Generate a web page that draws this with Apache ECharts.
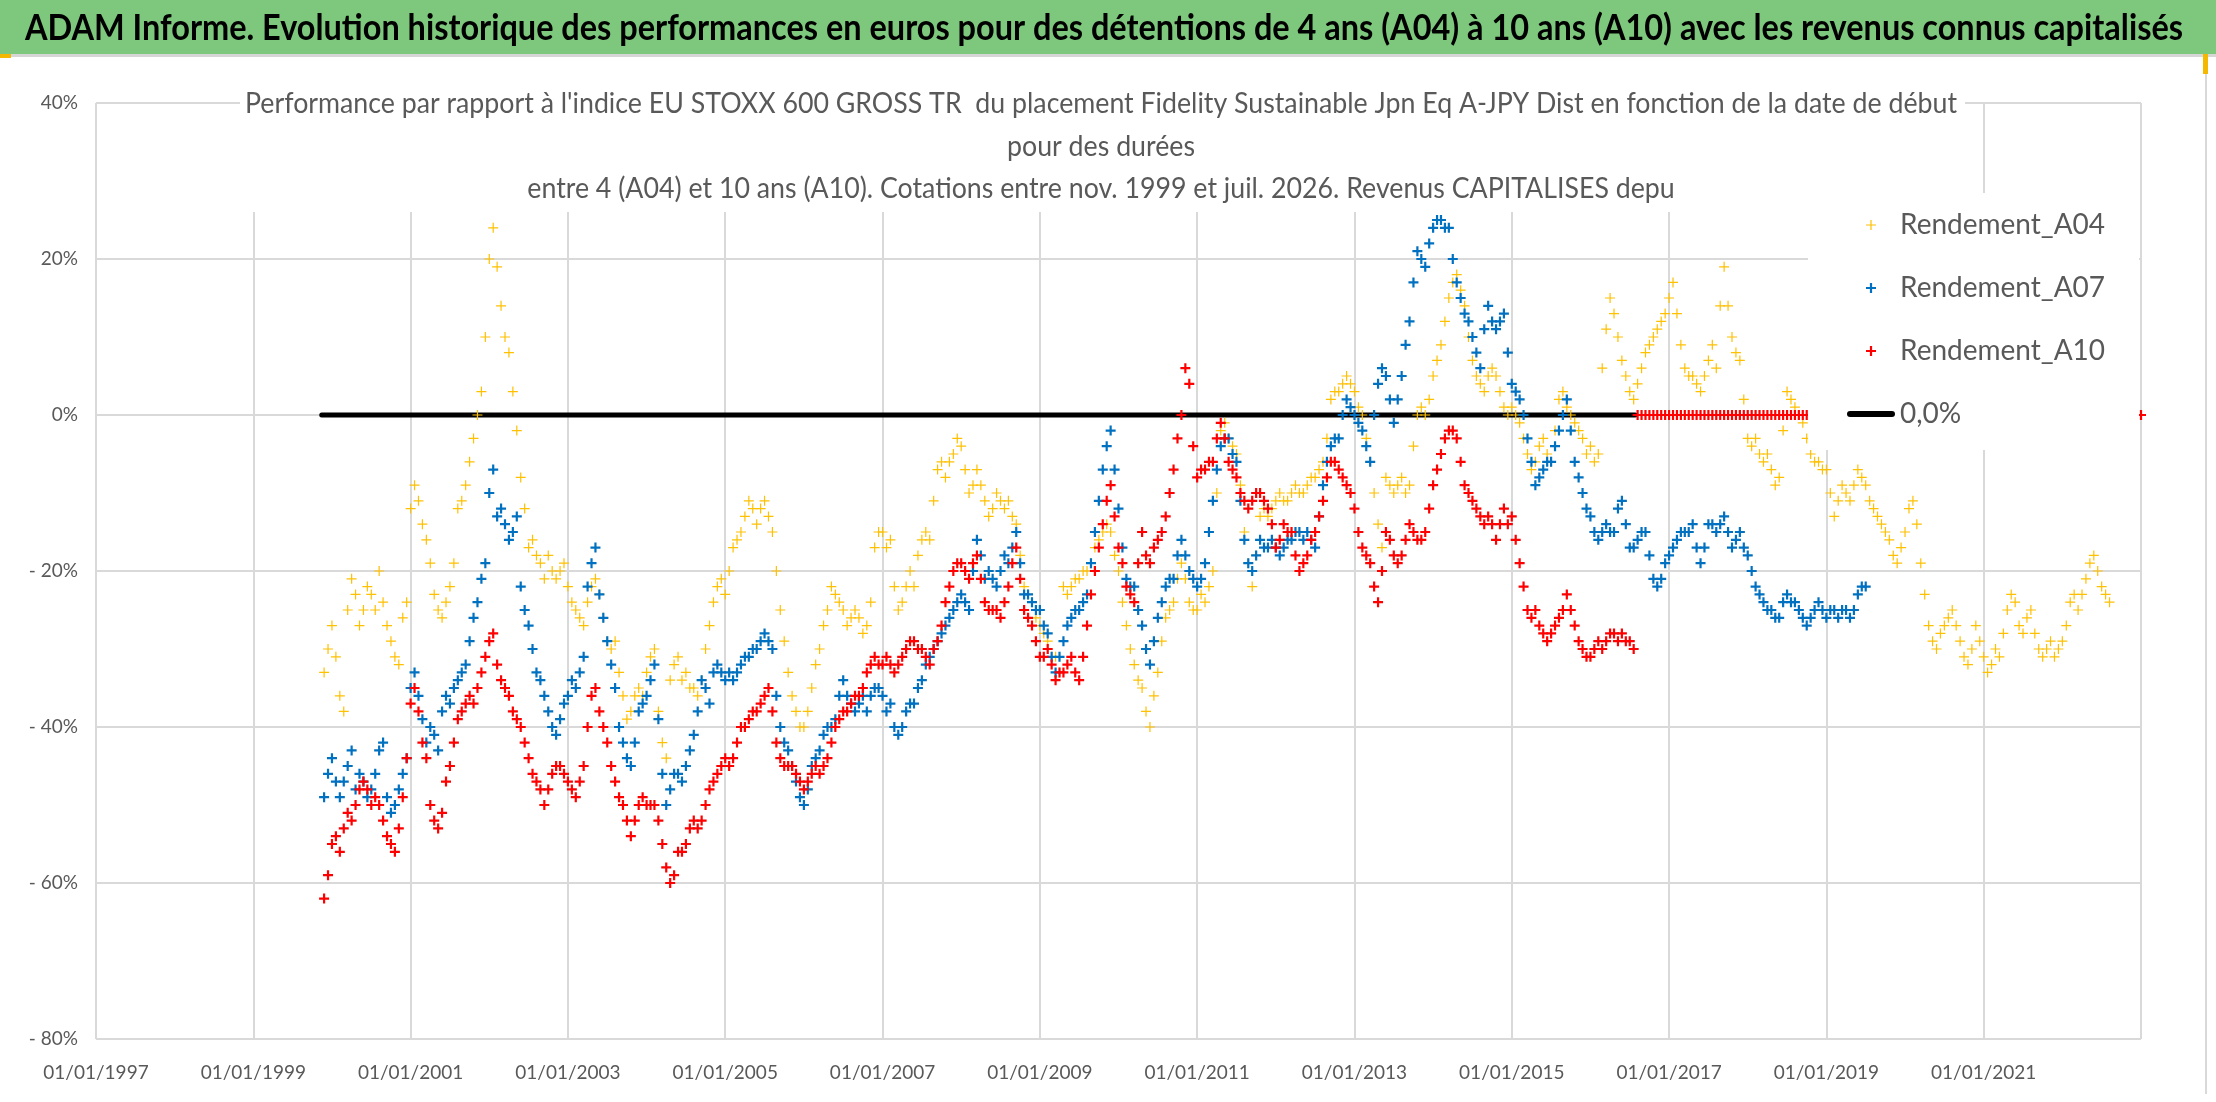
<!DOCTYPE html>
<html>
<head>
<meta charset="utf-8">
<title>ADAM Informe - Rendements A04 A07 A10</title>
<script src="https://cdn.jsdelivr.net/npm/echarts@6/dist/echarts.min.js"></script>
<style>
  html, body { margin: 0; padding: 0; background: #fff; }
  #chart { width: 2216px; height: 1102px; }
</style>
</head>
<body>
<div id="chart"></div>
<script>
// dates are decimal years, one value every 0.1 year starting at startYear;
// the "Half" arrays are a second reading of the band, half a step later
var startYear = 1999.9;
var step = 0.1;
var halfOffset = 0.05;
var baseYear = 1997;   // left edge of the date axis

var a04 = [
  -33,
  -27, -36, -25, -23, -25, -23, -20, -27, -31, -26,
  -12, -11, -16, -23, -26, -22, -12, -9, -3, 3,
  20, 19, 10, 3, -8, -17, -18, -21, -20, -20,
  -22, -25, -27, -22, -23, -29, -29, -36, -38, -35,
  -33, -30, -42, -34, -31, -33, -35, -34, -27, -22,
  -23, -17, -15, -11, -14, -11, -15, -25, -33, -38,
  -40, -35, -30, -25, -23, -25, -26, -26, -27, -17,
  -15, -16, -25, -22, -22, -16, -16, -7, -8, -5,
  -4, -10, -7, -11, -12, -11, -11, -14, -22, -24,
  -27, -29, -31, -22, -22, -21, -20, -17, -15, -15,
  -20, -27, -32, -35, -40, -33, -26, -24, -19, -24,
  -25, -24, -20, -2, -3, -5, -15, -22, -13, -13,
  -11, -11, -10, -10, -9, -8, -6, 2, 3, 5,
  3, 0, -6, -14, -8, -10, -8, -9, 0, 0,
  5, 9, 15, 18, 14, 7, 4, 5, 5, 1,
  1, -1, -5, -6, -3, -6, 2, 1, -1, -3,
  -4, -5, 11, 13, 7, 3, 4, 8, 10, 12,
  15, 13, 6, 5, 3, 7, 6, 19, 10, 7,
  -3, -3, -6, -7, -8, 3, 1, -1, -5, -6,
  -7, -13, -9, -11, -7, -9, -12, -14, -16, -19,
  -15, -11, -19, -27, -30, -27, -25, -29, -32, -27,
  -31, -32, -31, -25, -24, -28, -25, -30, -30, -31,
  -29, -24, -25, -21, -18, -22, -24
];
var a04Half = [
  -30,
  -31, -38, -21, -27, -22, -25, -24, -29, -32, -24,
  -9, -14, -19, -25, -24, -19, -11, -6, 0, 10,
  24, 14, 8, -2, -12, -16, -19, -18, -21, -19,
  -24, -26, -24, -21, -26, -30, -33, -39, -36, -36,
  -31, -38, -44, -32, -34, -35, -36, -30, -24, -21,
  -20, -16, -13, -12, -12, -13, -20, -29, -36, -40,
  -38, -32, -27, -22, -24, -27, -25, -28, -24, -15,
  -17, -22, -24, -20, -18, -15, -11, -6, -6, -3,
  -7, -9, -9, -13, -10, -12, -13, -18, -23, -26,
  -28, -31, -33, -23, -21, -20, -19, -16, -14, -18,
  -24, -30, -34, -38, -36, -29, -25, -21, -21, -25,
  -23, -22, -10, -1, -4, -9, -19, -18, -12, -12,
  -10, -11, -9, -10, -8, -7, -3, 3, 4, 4,
  1, -3, -10, -17, -9, -9, -10, -4, 1, 2,
  7, 12, 17, 16, 10, 5, 3, 6, 3, 0,
  0, -3, -7, -4, -5, -2, 3, 0, -2, -5,
  -6, 6, 15, 10, 5, 2, 6, 9, 11, 13,
  17, 9, 5, 4, 5, 9, 14, 14, 8, 2,
  -4, -5, -5, -9, -2, 2, 0, -3, -6, -7,
  -10, -11, -10, -9, -8, -11, -13, -15, -18, -17,
  -12, -14, -23, -29, -28, -26, -27, -31, -30, -29,
  -33, -30, -28, -23, -27, -26, -28, -31, -29, -30,
  -27, -23, -23, -19, -20, -23
];

var a07 = [
  -49,
  -44, -49, -45, -48, -47, -48, -43, -49, -50, -46,
  -35, -36, -42, -41, -38, -37, -34, -32, -26, -21,
  -10, -13, -14, -15, -22, -27, -33, -36, -40, -39,
  -36, -35, -31, -19, -23, -29, -35, -42, -45, -38,
  -36, -32, -46, -48, -46, -45, -41, -34, -37, -32,
  -34, -34, -32, -31, -30, -28, -30, -40, -43, -47,
  -50, -45, -43, -40, -39, -34, -37, -37, -38, -35,
  -36, -37, -41, -38, -37, -34, -31, -29, -27, -25,
  -23, -25, -16, -21, -21, -20, -19, -15, -23, -24,
  -25, -28, -33, -29, -26, -25, -23, -15, -7, -2,
  -12, -21, -22, -27, -32, -26, -22, -21, -16, -20,
  -22, -19, -11, -4, -3, -6, -16, -20, -16, -17,
  -17, -17, -16, -15, -15, -17, -9, -4, -3, 2,
  0, -2, -6, 4, 5, -1, 5, 12, 21, 19,
  24, 25, 24, 17, 13, 10, 6, 14, 11, 13,
  4, 2, -3, -9, -7, -6, -2, 2, -6, -10,
  -13, -16, -14, -15, -11, -17, -16, -15, -21, -21,
  -18, -16, -15, -14, -19, -14, -15, -13, -17, -15,
  -18, -22, -24, -25, -26, -23, -24, -26, -26, -24,
  -26, -25, -25, -26, -23, -22
];
var a07Half = [
  -46,
  -47, -47, -43, -46, -49, -46, -42, -51, -48, -44,
  -33, -39, -40, -43, -36, -35, -33, -29, -24, -19,
  -7, -12, -16, -13, -25, -30, -34, -38, -41, -37,
  -34, -33, -22, -17, -26, -32, -40, -44, -42, -37,
  -34, -39, -50, -46, -47, -43, -38, -35, -33, -33,
  -33, -33, -31, -30, -29, -29, -36, -42, -45, -49,
  -48, -44, -41, -40, -36, -36, -38, -36, -36, -35,
  -38, -40, -40, -37, -35, -32, -30, -28, -26, -24,
  -24, -20, -18, -20, -22, -18, -17, -19, -23, -25,
  -27, -31, -31, -27, -25, -24, -19, -11, -4, -7,
  -17, -22, -25, -30, -29, -24, -21, -18, -18, -21,
  -21, -15, -7, -3, -5, -11, -19, -18, -17, -16,
  -18, -16, -15, -16, -16, -13, -6, -3, 0, 1,
  -1, -4, 0, 6, 2, 2, 9, 17, 20, 22,
  25, 24, 20, 15, 12, 8, 11, 12, 12, 8,
  3, 0, -6, -8, -6, -4, 0, -2, -8, -12,
  -15, -15, -15, -12, -14, -17, -15, -18, -22, -19,
  -17, -15, -15, -17, -17, -14, -14, -15, -16, -17,
  -20, -23, -25, -26, -24, -24, -25, -27, -25, -25,
  -25, -26, -25, -25, -22
];

var a10 = [
  -62,
  -55, -56, -51, -50, -47, -50, -50, -54, -56, -49,
  -37, -38, -44, -52, -51, -45, -39, -37, -37, -33,
  -29, -32, -35, -38, -40, -44, -47, -50, -46, -45,
  -47, -49, -45, -36, -38, -42, -47, -50, -54, -50,
  -50, -50, -55, -60, -56, -55, -52, -52, -48, -46,
  -44, -44, -40, -39, -38, -36, -38, -44, -45, -46,
  -48, -46, -46, -44, -40, -38, -37, -36, -33, -31,
  -32, -32, -32, -30, -29, -30, -32, -29, -24, -20,
  -19, -21, -18, -24, -25, -26, -22, -17, -25, -27,
  -31, -30, -34, -33, -31, -34, -27, -20, -14, -9,
  -17, -22, -24, -15, -19, -16, -13, -7, 0, 4,
  -8, -7, -6, -1, -6, -8, -11, -11, -10, -12,
  -17, -14, -15, -20, -18, -15, -11, -6, -7, -9,
  -12, -17, -19, -24, -15, -18, -18, -14, -16, -15,
  -9, -5, -2, -3, -9, -11, -13, -13, -16, -12,
  -13, -19, -25, -25, -28, -28, -26, -23, -27, -30,
  -31, -29, -29, -28, -28, -29
];
var a10Half = [
  -59,
  -54, -53, -52, -48, -48, -49, -52, -55, -53, -44,
  -35, -42, -50, -53, -47, -42, -38, -36, -35, -31,
  -28, -34, -36, -39, -42, -46, -48, -48, -45, -46,
  -48, -47, -40, -35, -40, -45, -49, -52, -52, -49,
  -50, -52, -58, -59, -56, -53, -53, -50, -47, -45,
  -45, -42, -40, -38, -37, -35, -42, -45, -45, -47,
  -47, -45, -45, -42, -39, -38, -36, -35, -32, -32,
  -31, -33, -31, -29, -30, -31, -30, -27, -22, -19,
  -20, -19, -21, -25, -25, -24, -19, -21, -26, -29,
  -31, -32, -33, -32, -33, -31, -23, -17, -11, -13,
  -19, -23, -19, -18, -17, -15, -10, -3, 6, -4,
  -7, -6, -3, -3, -7, -10, -12, -10, -11, -14,
  -16, -15, -18, -19, -16, -13, -8, -6, -8, -10,
  -15, -18, -22, -20, -16, -19, -16, -15, -16, -12,
  -7, -3, -2, -6, -10, -12, -14, -14, -14, -14,
  -16, -22, -26, -27, -29, -27, -25, -25, -29, -31,
  -30, -30, -28, -29, -29, -30
];

// A10 after mid-2016: flat at 0, one value every 0.05 year up to 2023.0
var a10TailStart = 2016.6;
var a10TailStep = 0.05;
var a10Tail = [
  0, 0, 0, 0, 0, 0, 0, 0, 0, 0, 0, 0, 0, 0, 0, 0, 0, 0, 0, 0,
  0, 0, 0, 0, 0, 0, 0, 0, 0, 0, 0, 0, 0, 0, 0, 0, 0, 0, 0, 0,
  0, 0, 0, 0, 0, 0, 0, 0, 0, 0, 0, 0, 0, 0, 0, 0, 0, 0, 0, 0,
  0, 0, 0, 0, 0, 0, 0, 0, 0, 0, 0, 0, 0, 0, 0, 0, 0, 0, 0, 0,
  0, 0, 0, 0, 0, 0, 0, 0, 0, 0, 0, 0, 0, 0, 0, 0, 0, 0, 0, 0,
  0, 0, 0, 0, 0, 0, 0, 0, 0, 0, 0, 0, 0, 0, 0, 0, 0, 0, 0, 0,
  0, 0, 0, 0, 0, 0, 0, 0, 0
];

// 0% reference line : [start year, value], [end year, value]
var zeroLine = [[1999.87, 0], [2016.57, 0]];

var seriesNames = ['Rendement_A04', 'Rendement_A07', 'Rendement_A10', '0,0%'];
var yTicks = [-80, -60, -40, -20, 0, 20, 40];

var bannerText = 'ADAM Informe. Evolution historique des performances en euros pour des détentions de 4 ans (A04) à 10 ans (A10) avec les revenus connus capitalisés';
var titleLines = [
  "Performance par rapport à l'indice EU STOXX 600 GROSS TR  du placement Fidelity Sustainable Jpn Eq A-JPY Dist en fonction de la date de début",
  'pour des durées',
  'entre 4 (A04) et 10 ans (A10). Cotations entre nov. 1999 et juil. 2026. Revenus CAPITALISES depu'
];

function toPoints(values, start, dt) {
  return values.map(function (v, i) {
    return [+(start - baseYear + i * dt).toFixed(3), v];
  });
}

var plusThin = 'path://M4.4,0H5.6V4.4H10V5.6H5.6V10H4.4V5.6H0V4.4H4.4Z';
var plusBold = 'path://M3.9,0H6.1V3.9H10V6.1H6.1V10H3.9V6.1H0V3.9H3.9Z';
var lineIcon = 'path://M3,0H45A3,3,0,0,1,45,6H3A3,3,0,0,1,3,0Z';

// condensed look of the original font: squeeze text to its measured width
var measureCtx = document.createElement('canvas').getContext('2d');
function fitScale(text, font, width) {
  measureCtx.font = font;
  return width / measureCtx.measureText(text).width;
}
var bannerFont = 'bold 37px Lato';
var titleFont = '28px Lato';
var bannerScale = fitScale(bannerText, bannerFont, 2158);
var titleScale = fitScale(titleLines[0], titleFont, 1712);

function titleText(line, y) {
  return {
    type: 'text', x: 1101, y: y, scaleX: titleScale, z: 10,
    style: { text: line, font: titleFont, fill: '#595959', textAlign: 'center', textVerticalAlign: 'middle' }
  };
}

var myChart = echarts.init(document.getElementById('chart'));

var option = {
  backgroundColor: '#fff',
  animation: false,
  grid: { left: 96, right: 75, top: 103, bottom: 63 },
  xAxis: {
    type: 'value',
    min: 0,
    max: 26,
    interval: 2,
    axisLine: { show: true, lineStyle: { color: '#D9D9D9', width: 2 } },
    axisTick: { show: false },
    splitLine: { show: true, lineStyle: { color: '#D9D9D9', width: 2 } },
    axisLabel: {
      margin: 24,
      showMaxLabel: false,
      color: '#595959',
      fontFamily: 'Lato',
      fontSize: 19,
      formatter: function (v) { return '01/01/' + (baseYear + v); }
    }
  },
  yAxis: {
    type: 'value',
    min: yTicks[0],
    max: yTicks[yTicks.length - 1],
    interval: 20,
    axisLine: { show: false },
    axisTick: { show: false },
    splitLine: { show: true, lineStyle: { color: '#D9D9D9', width: 2 } },
    axisLabel: {
      margin: 18,
      color: '#595959',
      fontFamily: 'Lato',
      fontSize: 19,
      formatter: function (v) { return v < 0 ? '- ' + (-v) + '%' : v + '%'; }
    }
  },
  legend: {
    orient: 'vertical',
    left: 1847,
    top: 211,
    padding: 0,
    itemWidth: 48,
    itemHeight: 10,
    itemGap: 35,
    textStyle: { fontFamily: 'Lato', fontSize: 28, color: '#595959' },
    data: [
      { name: seriesNames[0], icon: plusThin },
      { name: seriesNames[1], icon: plusBold },
      { name: seriesNames[2], icon: plusBold },
      { name: seriesNames[3], icon: lineIcon }
    ]
  },
  graphic: [
    // banner
    { type: 'rect', shape: { x: 0, y: 0, width: 2216, height: 54 }, style: { fill: '#7DC87D' }, z: 1 },
    { type: 'rect', shape: { x: 0, y: 54, width: 2216, height: 3 }, style: { fill: '#D6D6D6' }, z: 1 },
    { type: 'rect', shape: { x: 0, y: 54, width: 11, height: 4 }, style: { fill: '#F5B800' }, z: 2 },
    { type: 'rect', shape: { x: 2203, y: 54, width: 5, height: 20 }, style: { fill: '#F5B800' }, z: 2 },
    { type: 'rect', shape: { x: 2205, y: 57, width: 2, height: 1037 }, style: { fill: '#D9D9D9' }, z: 1 },
    {
      type: 'text', x: 1104, y: 28, scaleX: bannerScale, z: 10,
      style: { text: bannerText, font: bannerFont, fill: '#000', textAlign: 'center', textVerticalAlign: 'middle' }
    },
    // white boxes behind the chart title and the legend
    { type: 'rect', shape: { x: 240, y: 84, width: 1725, height: 128 }, style: { fill: '#fff' }, z: 3 },
    { type: 'rect', shape: { x: 1808, y: 193, width: 331, height: 257 }, style: { fill: '#fff' }, z: 3 },
    titleText(titleLines[0], 104),
    titleText(titleLines[1], 147),
    titleText(titleLines[2], 189)
  ],
  series: [
    {
      name: seriesNames[3],
      type: 'line',
      data: zeroLine.map(function (p) { return [p[0] - baseYear, p[1]]; }),
      symbol: 'none',
      lineStyle: { color: '#000', width: 5, cap: 'round' },
      itemStyle: { color: '#000' },
      z: 2
    },
    {
      name: seriesNames[0],
      type: 'scatter',
      data: toPoints(a04, startYear, step).concat(toPoints(a04Half, startYear + halfOffset, step)),
      symbol: plusThin,
      symbolSize: 10,
      itemStyle: { color: '#FFC000', opacity: 1 },
      z: 2
    },
    {
      name: seriesNames[1],
      type: 'scatter',
      data: toPoints(a07, startYear, step).concat(toPoints(a07Half, startYear + halfOffset, step)),
      symbol: plusBold,
      symbolSize: 10,
      itemStyle: { color: '#0070C0', opacity: 1 },
      z: 2
    },
    {
      name: seriesNames[2],
      type: 'scatter',
      data: toPoints(a10, startYear, step)
        .concat(toPoints(a10Half, startYear + halfOffset, step))
        .concat(toPoints(a10Tail, a10TailStart, a10TailStep)),
      symbol: plusBold,
      symbolSize: 10,
      itemStyle: { color: '#FF0000', opacity: 1 },
      z: 2
    }
  ]
};

myChart.setOption(option);
</script>
</body>
</html>
